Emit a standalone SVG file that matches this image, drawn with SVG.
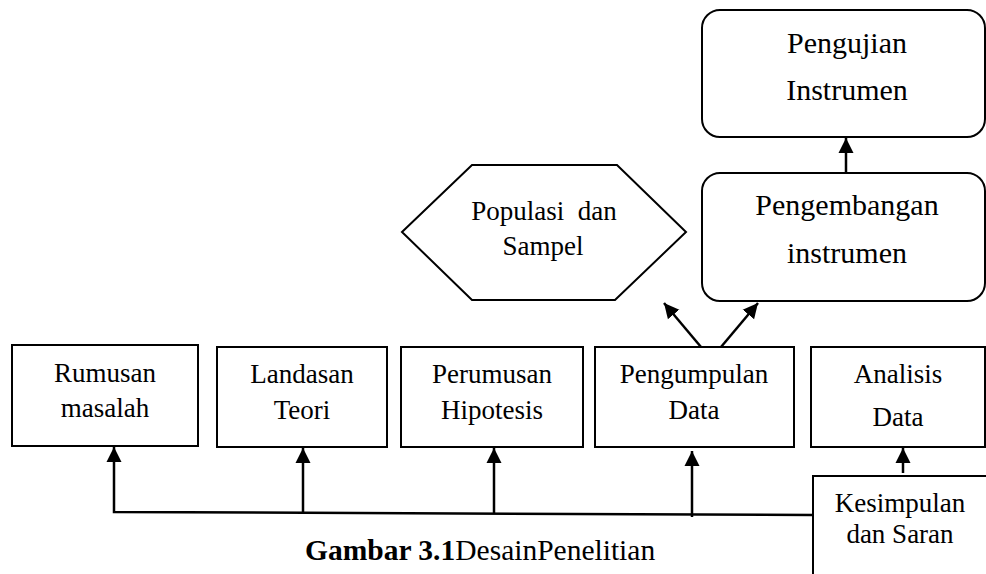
<svg xmlns="http://www.w3.org/2000/svg" width="986" height="574" viewBox="0 0 986 574">
<defs>
<style>
.box{fill:#fff;stroke:#000;stroke-width:2}
.t{font-family:'Liberation Serif','Times New Roman',serif;font-size:27px;fill:#000;text-anchor:middle}
.tb{font-size:30px}
.c{fill:none;stroke:#000;stroke-width:2.5}
.cap{font-family:'Liberation Serif','Times New Roman',serif;font-size:29.5px;fill:#000}
</style>
<marker id="ah" markerUnits="userSpaceOnUse" markerWidth="16" markerHeight="16" viewBox="0 0 16 16" refX="15" refY="8" orient="auto">
<path d="M0,0.5 L15,8 L0,15.5 z" fill="#000"/>
</marker>
</defs>
<rect width="986" height="574" fill="#fff"/>

<g id="pengujian">
<rect class="box" x="702" y="10" width="283" height="127" rx="18"/>
<text class="t tb" x="847" y="53">Pengujian</text>
<text class="t tb" x="847" y="100">Instrumen</text>
</g>

<g id="pengembangan">
<rect class="box" x="702" y="173" width="283" height="128" rx="18"/>
<text class="t tb" x="847" y="215">Pengembangan</text>
<text class="t tb" x="847" y="263">instrumen</text>
</g>

<g id="populasi">
<polygon class="box" points="402,232 472,165 617,165 686,232 615,300 472,300"/>
<text class="t" x="544" y="220" style="white-space:pre" xml:space="preserve">Populasi  dan</text>
<text class="t" x="543" y="255">Sampel</text>
</g>

<g id="rumusan">
<rect class="box" x="12" y="345" width="186" height="101"/>
<text class="t" x="105" y="382">Rumusan</text>
<text class="t" x="105" y="417">masalah</text>
</g>

<g id="landasan">
<rect class="box" x="217" y="347" width="170" height="100"/>
<text class="t" x="302" y="383">Landasan</text>
<text class="t" x="302" y="419">Teori</text>
</g>

<g id="perumusan">
<rect class="box" x="401" y="347" width="182" height="100"/>
<text class="t" x="492" y="383">Perumusan</text>
<text class="t" x="492" y="419">Hipotesis</text>
</g>

<g id="pengumpulan">
<rect class="box" x="595" y="347" width="199" height="100"/>
<text class="t" x="694" y="383">Pengumpulan</text>
<text class="t" x="694" y="419">Data</text>
</g>

<g id="analisis">
<rect class="box" x="811" y="347" width="174" height="100"/>
<text class="t" x="898" y="383">Analisis</text>
<text class="t" x="898" y="426">Data</text>
</g>

<g id="kesimpulan">
<rect class="box" x="813" y="476" width="190" height="120"/>
<text class="t" x="900" y="512">Kesimpulan</text>
<text class="t" x="900" y="543">dan Saran</text>
</g>

<g id="connectors">
<polyline class="c" points="813,515 114,512 114,447" marker-end="url(#ah)"/>
<line class="c" x1="303" y1="513" x2="303" y2="448" marker-end="url(#ah)"/>
<line class="c" x1="494" y1="514" x2="494" y2="448" marker-end="url(#ah)"/>
<line class="c" x1="692" y1="517" x2="692" y2="451" marker-end="url(#ah)"/>
<line class="c" x1="903" y1="473" x2="903" y2="448" marker-end="url(#ah)"/>
<line class="c" x1="846" y1="173" x2="846" y2="138" marker-end="url(#ah)"/>
<line class="c" x1="701" y1="347" x2="664" y2="303" marker-end="url(#ah)"/>
<line class="c" x1="721" y1="347" x2="758" y2="303" marker-end="url(#ah)"/>
</g>

<text class="cap" x="305" y="560"><tspan font-weight="bold">Gambar 3.1</tspan>DesainPenelitian</text>
</svg>
